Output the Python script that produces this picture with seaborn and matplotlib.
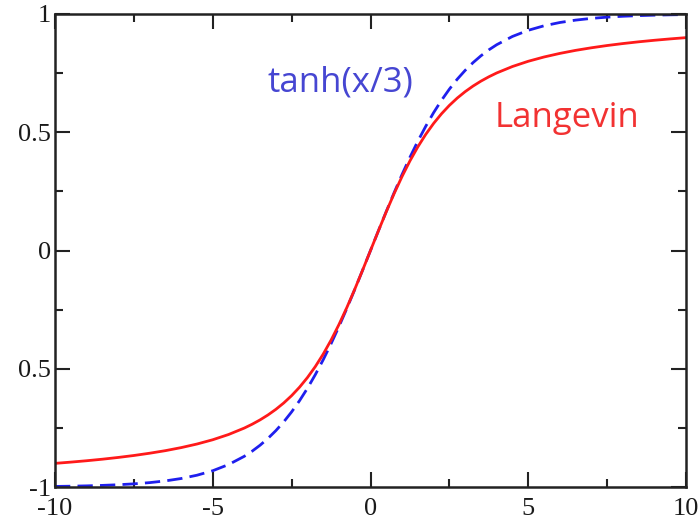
import pandas as pd
import matplotlib.pyplot as plt
import seaborn as sns
from matplotlib.ticker import MultipleLocator

# Values (finer spacing through the steep middle part)
x_vals = [-10.0, -9.5, -9.0, -8.5, -8.0, -7.5, -7.0, -6.5, -6.0, -5.5, -5.0, -4.5,
          -4.0, -3.75, -3.5, -3.25, -3.0, -2.75, -2.5, -2.25, -2.0, -1.75, -1.5, -1.25,
          -1.0, -0.75, -0.5, -0.25, 0.0, 0.25, 0.5, 0.75, 1.0, 1.25, 1.5, 1.75,
          2.0, 2.25, 2.5, 2.75, 3.0, 3.25, 3.5, 3.75, 4.0,
          4.5, 5.0, 5.5, 6.0, 6.5, 7.0, 7.5, 8.0, 8.5, 9.0, 9.5, 10.0]
tanh_vals = [-0.9975, -0.9965, -0.9951, -0.9931, -0.9904, -0.9866, -0.9814, -0.9741, -0.9640, -0.9501, -0.9311, -0.9051,
             -0.8701, -0.8483, -0.8232, -0.7944, -0.7616, -0.7244, -0.6823, -0.6351, -0.5828, -0.5250, -0.4621, -0.3941,
             -0.3215, -0.2449, -0.1651, -0.0831, 0.0, 0.0831, 0.1651, 0.2449, 0.3215, 0.3941, 0.4621, 0.5250,
             0.5828, 0.6351, 0.6823, 0.7244, 0.7616, 0.7944, 0.8232, 0.8483, 0.8701,
             0.9051, 0.9311, 0.9501, 0.9640, 0.9741, 0.9814, 0.9866, 0.9904, 0.9931, 0.9951, 0.9965, 0.9975]
langevin_vals = [-0.9000, -0.8947, -0.8889, -0.8824, -0.8750, -0.8667, -0.8571, -0.8462, -0.8333, -0.8182, -0.8001, -0.7780,
                 -0.7507, -0.7344, -0.7161, -0.6953, -0.6716, -0.6446, -0.6136, -0.5780, -0.5373, -0.4909, -0.4382, -0.3789,
                 -0.3130, -0.2411, -0.1640, -0.0830, 0.0, 0.0830, 0.1640, 0.2411, 0.3130, 0.3789, 0.4382, 0.4909,
                 0.5373, 0.5780, 0.6136, 0.6446, 0.6716, 0.6953, 0.7161, 0.7344, 0.7507,
                 0.7780, 0.8001, 0.8182, 0.8333, 0.8462, 0.8571, 0.8667, 0.8750, 0.8824, 0.8889, 0.8947, 0.9000]

x_ticks = [-10, -5, 0, 5, 10]
x_ticklabels = ["-10", "-5", "0", "5", "10"]
y_ticks = [-1, -0.5, 0, 0.5, 1]
y_ticklabels = ["-1", "0.5", "0", "0.5", "1"]

df = pd.DataFrame({"x": x_vals, "tanh": tanh_vals, "langevin": langevin_vals})

sns.set_style("ticks")
plt.rcParams["font.family"] = ["Liberation Serif", "DejaVu Serif"]

fig = plt.figure(figsize=(6.99, 5.26), dpi=100)
ax = fig.add_axes([0.0787, 0.0741, 0.9027, 0.8993])

sns.lineplot(data=df, x="x", y="tanh", ax=ax, color="#1f1fee", linewidth=2.0,
             linestyle=(0, (5.5, 2.6)))
sns.lineplot(data=df, x="x", y="langevin", ax=ax, color="#ff1a1a", linewidth=2.0)

ax.set_xlim(-10, 10)
ax.set_ylim(-1, 1)
ax.set_xticks(x_ticks)
ax.set_xticklabels(x_ticklabels)
ax.set_yticks(y_ticks)
ax.set_yticklabels(y_ticklabels)
ax.xaxis.set_minor_locator(MultipleLocator(2.5))
ax.yaxis.set_minor_locator(MultipleLocator(0.25))
ax.tick_params(which="both", direction="in", top=True, right=True, width=1.5, colors="#222222")
ax.tick_params(which="major", length=11, labelsize=19, labelcolor="#1a1a1a")
ax.tick_params(axis="x", which="major", pad=8)
ax.tick_params(axis="y", which="major", pad=3)
ax.tick_params(which="minor", length=6)
for s in ax.spines.values():
    s.set_linewidth(1.8)
    s.set_color("#222222")
ax.set_xlabel("")
ax.set_ylabel("")

ax.text(-3.25, 0.674, "tanh(x/3)", color="#4646d2", fontsize=25, family=["Open Sans", "DejaVu Sans"],
        ha="left", va="baseline")
ax.text(3.95, 0.522, "Langevin", color="#f23232", fontsize=25, family=["Open Sans", "DejaVu Sans"],
        ha="left", va="baseline")

plt.savefig("out.png", dpi=100)
plt.close()
